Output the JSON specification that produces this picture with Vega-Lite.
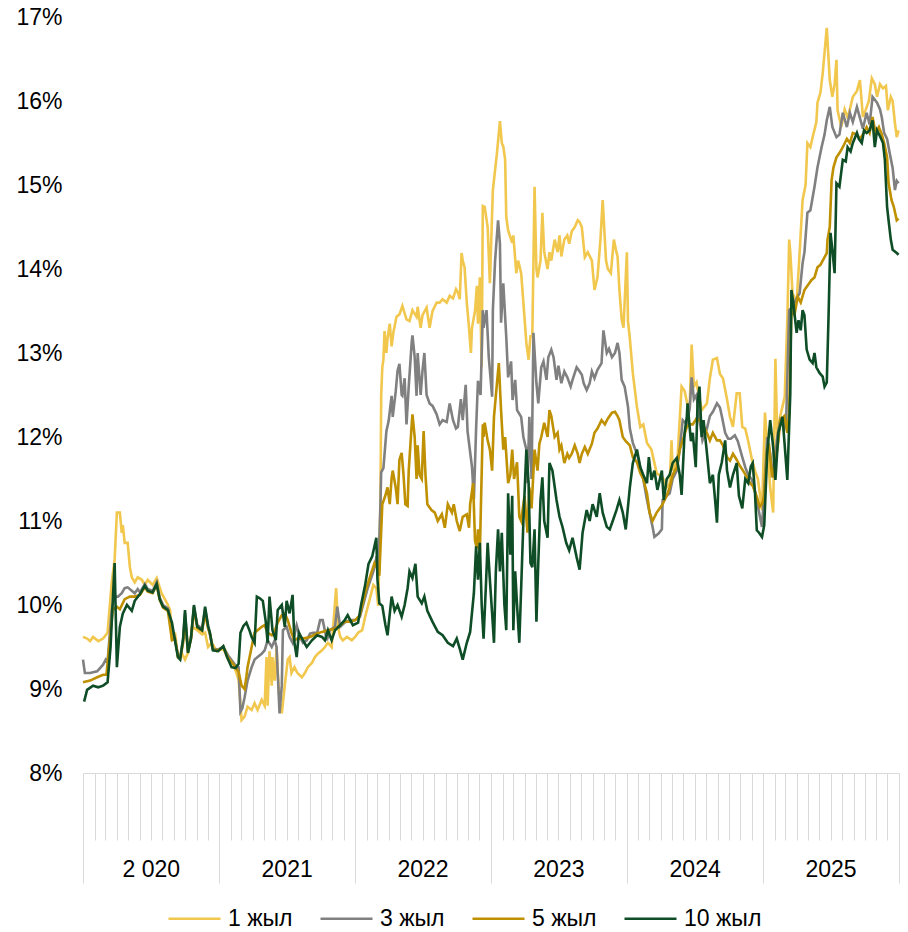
{
  "$schema": "https://vega.github.io/schema/vega-lite/v6.json",
  "width": 816,
  "height": 756,
  "autosize": {"type": "none"},
  "padding": {"left": 83, "top": 17, "right": 9, "bottom": 159},
  "background": "white",
  "config": {"view": {"stroke": null}, "font": "Liberation Sans", "legend": {"columnPadding": 9, "gridAlign": "all", "labelOffset": 6}},
  "datasets": {
    "y1": [
      {"d":"2020-01-01","v":9.62},{"d":"2020-01-12","v":9.6},{"d":"2020-01-20","v":9.57},{"d":"2020-01-28","v":9.62},{"d":"2020-02-11","v":9.57},{"d":"2020-02-24","v":9.6},{"d":"2020-03-07","v":9.67},{"d":"2020-03-18","v":10.26},{"d":"2020-03-26","v":10.54},{"d":"2020-04-01","v":11.1},{"d":"2020-04-09","v":11.1},{"d":"2020-04-14","v":10.86},{"d":"2020-04-17","v":10.95},{"d":"2020-04-22","v":10.74},{"d":"2020-04-30","v":10.74},{"d":"2020-05-06","v":10.45},{"d":"2020-05-11","v":10.33},{"d":"2020-05-19","v":10.27},{"d":"2020-05-27","v":10.33},{"d":"2020-06-07","v":10.3},{"d":"2020-06-15","v":10.24},{"d":"2020-06-23","v":10.3},{"d":"2020-07-06","v":10.24},{"d":"2020-07-17","v":10.32},{"d":"2020-07-30","v":10.14},{"d":"2020-08-14","v":10.02},{"d":"2020-08-22","v":9.94},{"d":"2020-08-27","v":9.58},{"d":"2020-09-04","v":9.67},{"d":"2020-09-12","v":9.38},{"d":"2020-09-23","v":9.42},{"d":"2020-10-01","v":9.35},{"d":"2020-10-09","v":9.43},{"d":"2020-10-22","v":9.74},{"d":"2020-11-03","v":9.7},{"d":"2020-11-16","v":9.65},{"d":"2020-11-24","v":9.67},{"d":"2020-12-02","v":9.5},{"d":"2020-12-12","v":9.55},{"d":"2020-12-26","v":9.45},
      {"d":"2021-01-12","v":9.48},{"d":"2021-01-25","v":9.35},{"d":"2021-02-08","v":9.3},{"d":"2021-02-22","v":9.11},{"d":"2021-03-02","v":8.63},{"d":"2021-03-10","v":8.67},{"d":"2021-03-18","v":8.79},{"d":"2021-03-29","v":8.75},{"d":"2021-04-06","v":8.83},{"d":"2021-04-14","v":8.75},{"d":"2021-04-25","v":8.87},{"d":"2021-05-03","v":8.8},{"d":"2021-05-08","v":9.38},{"d":"2021-05-11","v":8.8},{"d":"2021-05-16","v":9.45},{"d":"2021-05-22","v":9.04},{"d":"2021-05-24","v":9.38},{"d":"2021-05-30","v":9.1},{"d":"2021-06-04","v":9.5},{"d":"2021-06-07","v":9.2},{"d":"2021-06-12","v":8.85},{"d":"2021-06-18","v":8.71},{"d":"2021-06-26","v":9.04},{"d":"2021-07-04","v":9.35},{"d":"2021-07-09","v":9.38},{"d":"2021-07-14","v":9.19},{"d":"2021-07-22","v":9.26},{"d":"2021-07-30","v":9.19},{"d":"2021-08-11","v":9.14},{"d":"2021-08-19","v":9.19},{"d":"2021-08-27","v":9.26},{"d":"2021-09-07","v":9.31},{"d":"2021-09-15","v":9.38},{"d":"2021-09-23","v":9.42},{"d":"2021-10-04","v":9.46},{"d":"2021-10-12","v":9.5},{"d":"2021-10-20","v":9.55},{"d":"2021-10-30","v":9.5},{"d":"2021-11-03","v":9.74},{"d":"2021-11-11","v":10.2},{"d":"2021-11-16","v":9.74},{"d":"2021-11-22","v":9.62},{"d":"2021-11-29","v":9.58},{"d":"2021-12-10","v":9.62},{"d":"2021-12-23","v":9.58},
      {"d":"2022-01-01","v":9.62},{"d":"2022-01-09","v":9.67},{"d":"2022-01-20","v":9.7},{"d":"2022-01-28","v":9.86},{"d":"2022-02-11","v":10.1},{"d":"2022-02-19","v":10.24},{"d":"2022-02-27","v":10.2},{"d":"2022-03-04","v":9.99},{"d":"2022-03-10","v":11.2},{"d":"2022-03-12","v":12.5},{"d":"2022-03-15","v":12.83},{"d":"2022-03-18","v":12.92},{"d":"2022-03-21","v":13.26},{"d":"2022-03-26","v":13.0},{"d":"2022-03-29","v":13.17},{"d":"2022-04-04","v":13.35},{"d":"2022-04-09","v":13.08},{"d":"2022-04-14","v":13.25},{"d":"2022-04-22","v":13.43},{"d":"2022-04-30","v":13.46},{"d":"2022-05-08","v":13.56},{"d":"2022-05-19","v":13.4},{"d":"2022-05-27","v":13.38},{"d":"2022-06-04","v":13.51},{"d":"2022-06-15","v":13.43},{"d":"2022-06-18","v":13.55},{"d":"2022-06-26","v":13.3},{"d":"2022-07-01","v":13.45},{"d":"2022-07-12","v":13.54},{"d":"2022-07-20","v":13.3},{"d":"2022-07-28","v":13.5},{"d":"2022-08-08","v":13.6},{"d":"2022-08-16","v":13.6},{"d":"2022-08-24","v":13.64},{"d":"2022-09-04","v":13.6},{"d":"2022-09-12","v":13.68},{"d":"2022-09-21","v":13.65},{"d":"2022-09-29","v":13.76},{"d":"2022-10-04","v":13.72},{"d":"2022-10-09","v":13.64},{"d":"2022-10-14","v":14.19},{"d":"2022-10-17","v":14.1},{"d":"2022-10-22","v":14.02},{"d":"2022-10-28","v":13.6},{"d":"2022-11-03","v":13.3},{"d":"2022-11-08","v":13.0},{"d":"2022-11-11","v":13.3},{"d":"2022-11-19","v":13.5},{"d":"2022-11-24","v":13.8},{"d":"2022-11-27","v":13.35},{"d":"2022-12-02","v":13.9},{"d":"2022-12-07","v":12.83},{"d":"2022-12-10","v":14.75},{"d":"2022-12-15","v":14.74},{"d":"2022-12-23","v":14.5},{"d":"2022-12-29","v":13.83},
      {"d":"2023-01-06","v":14.94},{"d":"2023-01-12","v":15.18},{"d":"2023-01-17","v":15.38},{"d":"2023-01-25","v":15.76},{"d":"2023-01-30","v":15.5},{"d":"2023-02-03","v":15.46},{"d":"2023-02-08","v":15.3},{"d":"2023-02-11","v":14.62},{"d":"2023-02-16","v":14.46},{"d":"2023-02-27","v":14.31},{"d":"2023-03-02","v":14.4},{"d":"2023-03-10","v":13.95},{"d":"2023-03-15","v":14.1},{"d":"2023-03-23","v":13.95},{"d":"2023-03-29","v":13.6},{"d":"2023-04-06","v":13.12},{"d":"2023-04-12","v":12.92},{"d":"2023-04-17","v":13.2},{"d":"2023-04-22","v":13.2},{"d":"2023-04-28","v":14.98},{"d":"2023-05-03","v":14.0},{"d":"2023-05-06","v":13.9},{"d":"2023-05-14","v":14.1},{"d":"2023-05-19","v":14.67},{"d":"2023-05-24","v":14.2},{"d":"2023-06-02","v":14.0},{"d":"2023-06-07","v":14.2},{"d":"2023-06-12","v":14.1},{"d":"2023-06-21","v":14.35},{"d":"2023-06-29","v":14.2},{"d":"2023-07-04","v":14.4},{"d":"2023-07-09","v":14.15},{"d":"2023-07-17","v":14.35},{"d":"2023-07-25","v":14.4},{"d":"2023-07-30","v":14.3},{"d":"2023-08-06","v":14.45},{"d":"2023-08-14","v":14.5},{"d":"2023-08-22","v":14.58},{"d":"2023-08-27","v":14.56},{"d":"2023-09-02","v":14.5},{"d":"2023-09-10","v":14.14},{"d":"2023-09-18","v":14.2},{"d":"2023-09-29","v":14.1},{"d":"2023-10-06","v":13.75},{"d":"2023-10-14","v":13.9},{"d":"2023-10-22","v":14.35},{"d":"2023-10-28","v":14.82},{"d":"2023-11-06","v":14.1},{"d":"2023-11-11","v":14.0},{"d":"2023-11-19","v":13.95},{"d":"2023-11-27","v":14.35},{"d":"2023-12-04","v":14.2},{"d":"2023-12-07","v":14.15},{"d":"2023-12-12","v":13.75},{"d":"2023-12-18","v":13.4},{"d":"2023-12-23","v":13.3},{"d":"2024-01-01","v":14.2},
      {"d":"2024-01-04","v":13.38},{"d":"2024-01-09","v":13.17},{"d":"2024-01-17","v":12.76},{"d":"2024-01-28","v":12.36},{"d":"2024-02-06","v":12.12},{"d":"2024-02-14","v":12.15},{"d":"2024-02-24","v":11.93},{"d":"2024-03-07","v":11.85},{"d":"2024-03-21","v":11.57},{"d":"2024-04-06","v":11.52},{"d":"2024-04-17","v":11.4},{"d":"2024-04-25","v":11.45},{"d":"2024-04-30","v":11.96},{"d":"2024-05-03","v":11.6},{"d":"2024-05-16","v":11.75},{"d":"2024-05-27","v":12.6},{"d":"2024-06-04","v":12.55},{"d":"2024-06-12","v":12.38},{"d":"2024-06-18","v":12.4},{"d":"2024-06-23","v":13.1},{"d":"2024-06-29","v":12.6},{"d":"2024-07-06","v":12.65},{"d":"2024-07-20","v":12.32},{"d":"2024-08-03","v":12.4},{"d":"2024-08-11","v":12.7},{"d":"2024-08-19","v":12.92},{"d":"2024-08-30","v":12.94},{"d":"2024-09-07","v":12.75},{"d":"2024-09-15","v":12.7},{"d":"2024-09-26","v":12.45},{"d":"2024-10-04","v":12.24},{"d":"2024-10-12","v":12.12},{"d":"2024-10-22","v":12.52},{"d":"2024-10-30","v":12.52},{"d":"2024-11-06","v":12.12},{"d":"2024-11-14","v":12.1},{"d":"2024-11-22","v":11.95},{"d":"2024-12-02","v":11.73},{"d":"2024-12-10","v":11.6},{"d":"2024-12-18","v":11.5},{"d":"2024-12-29","v":11.13},
      {"d":"2025-01-06","v":12.29},{"d":"2025-01-12","v":11.9},{"d":"2025-01-20","v":11.4},{"d":"2025-01-28","v":11.1},{"d":"2025-02-03","v":12.93},{"d":"2025-02-08","v":12.0},{"d":"2025-02-16","v":12.25},{"d":"2025-02-24","v":12.4},{"d":"2025-02-28","v":12.48},{"d":"2025-03-07","v":13.39},{"d":"2025-03-12","v":14.35},{"d":"2025-03-15","v":14.2},{"d":"2025-03-21","v":13.71},{"d":"2025-04-01","v":13.6},{"d":"2025-04-09","v":14.19},{"d":"2025-04-17","v":14.82},{"d":"2025-04-25","v":15.0},{"d":"2025-04-30","v":15.5},{"d":"2025-05-08","v":15.45},{"d":"2025-05-14","v":15.57},{"d":"2025-05-24","v":15.75},{"d":"2025-05-27","v":15.98},{"d":"2025-06-04","v":16.1},{"d":"2025-06-10","v":16.33},{"d":"2025-06-21","v":16.87},{"d":"2025-06-29","v":16.25},{"d":"2025-07-06","v":16.05},{"d":"2025-07-12","v":16.2},{"d":"2025-07-17","v":16.49},{"d":"2025-07-20","v":15.89},{"d":"2025-07-30","v":15.69},{"d":"2025-08-08","v":15.9},{"d":"2025-08-16","v":15.8},{"d":"2025-08-22","v":15.9},{"d":"2025-08-30","v":16.05},{"d":"2025-09-10","v":16.12},{"d":"2025-09-18","v":16.25},{"d":"2025-09-26","v":15.81},{"d":"2025-10-04","v":15.9},{"d":"2025-10-12","v":16.0},{"d":"2025-10-20","v":16.27},{"d":"2025-10-28","v":16.2},{"d":"2025-11-03","v":16.05},{"d":"2025-11-11","v":16.2},{"d":"2025-11-19","v":16.15},{"d":"2025-11-27","v":16.18},{"d":"2025-12-02","v":15.89},{"d":"2025-12-10","v":16.05},{"d":"2025-12-15","v":16.0},{"d":"2025-12-21","v":15.74},{"d":"2025-12-26","v":15.57},{"d":"2025-12-31","v":15.65}
    ],
    "y3": [
      {"d":"2020-01-01","v":9.35},{"d":"2020-01-06","v":9.19},{"d":"2020-01-20","v":9.19},{"d":"2020-02-08","v":9.21},{"d":"2020-02-24","v":9.29},{"d":"2020-03-02","v":9.35},{"d":"2020-03-07","v":9.32},{"d":"2020-03-18","v":9.94},{"d":"2020-03-26","v":10.1},{"d":"2020-04-04","v":10.1},{"d":"2020-04-14","v":10.14},{"d":"2020-04-22","v":10.2},{"d":"2020-04-30","v":10.21},{"d":"2020-05-11","v":10.17},{"d":"2020-05-19","v":10.14},{"d":"2020-05-27","v":10.19},{"d":"2020-06-02","v":10.15},{"d":"2020-06-15","v":10.25},{"d":"2020-06-23","v":10.19},{"d":"2020-07-06","v":10.17},{"d":"2020-07-17","v":10.27},{"d":"2020-07-25","v":10.09},{"d":"2020-08-03","v":10.0},{"d":"2020-08-16","v":9.96},{"d":"2020-08-27","v":9.7},{"d":"2020-09-04","v":9.6},{"d":"2020-09-12","v":9.4},{"d":"2020-09-18","v":9.37},{"d":"2020-09-26","v":9.6},{"d":"2020-10-01","v":9.9},{"d":"2020-10-09","v":9.45},{"d":"2020-10-17","v":9.6},{"d":"2020-10-25","v":9.98},{"d":"2020-11-03","v":9.76},{"d":"2020-11-16","v":9.72},{"d":"2020-11-24","v":9.95},{"d":"2020-12-02","v":9.75},{"d":"2020-12-07","v":9.65},{"d":"2020-12-15","v":9.48},{"d":"2020-12-29","v":9.47},
      {"d":"2021-01-12","v":9.5},{"d":"2021-01-25","v":9.4},{"d":"2021-02-14","v":9.28},{"d":"2021-02-22","v":9.26},{"d":"2021-02-27","v":8.73},{"d":"2021-03-04","v":8.77},{"d":"2021-03-10","v":8.9},{"d":"2021-03-18","v":9.1},{"d":"2021-03-29","v":9.26},{"d":"2021-04-06","v":9.35},{"d":"2021-04-14","v":9.38},{"d":"2021-04-25","v":9.42},{"d":"2021-05-03","v":9.46},{"d":"2021-05-11","v":9.58},{"d":"2021-05-22","v":9.5},{"d":"2021-05-30","v":9.58},{"d":"2021-06-04","v":9.5},{"d":"2021-06-07","v":9.2},{"d":"2021-06-12","v":8.71},{"d":"2021-06-18","v":9.04},{"d":"2021-06-21","v":9.7},{"d":"2021-07-01","v":9.74},{"d":"2021-07-09","v":9.62},{"d":"2021-07-17","v":9.55},{"d":"2021-07-28","v":9.76},{"d":"2021-08-06","v":9.62},{"d":"2021-08-14","v":9.55},{"d":"2021-08-24","v":9.58},{"d":"2021-09-02","v":9.66},{"d":"2021-09-10","v":9.67},{"d":"2021-09-21","v":9.67},{"d":"2021-09-29","v":9.82},{"d":"2021-10-06","v":9.82},{"d":"2021-10-17","v":9.58},{"d":"2021-10-25","v":9.7},{"d":"2021-11-08","v":9.74},{"d":"2021-11-14","v":9.98},{"d":"2021-11-22","v":9.74},{"d":"2021-12-04","v":9.79},{"d":"2021-12-18","v":9.82},
      {"d":"2022-01-01","v":9.82},{"d":"2022-01-14","v":9.86},{"d":"2022-02-03","v":10.19},{"d":"2022-02-19","v":10.4},{"d":"2022-02-28","v":10.58},{"d":"2022-03-04","v":10.37},{"d":"2022-03-10","v":11.2},{"d":"2022-03-12","v":11.58},{"d":"2022-03-18","v":11.63},{"d":"2022-03-26","v":12.07},{"d":"2022-04-01","v":12.19},{"d":"2022-04-09","v":12.49},{"d":"2022-04-12","v":12.24},{"d":"2022-04-20","v":12.54},{"d":"2022-04-25","v":12.79},{"d":"2022-04-30","v":12.87},{"d":"2022-05-06","v":12.5},{"d":"2022-05-08","v":12.49},{"d":"2022-05-14","v":12.7},{"d":"2022-05-19","v":12.15},{"d":"2022-05-25","v":12.6},{"d":"2022-06-02","v":13.13},{"d":"2022-06-04","v":13.21},{"d":"2022-06-10","v":12.95},{"d":"2022-06-15","v":12.49},{"d":"2022-06-18","v":13.0},{"d":"2022-06-26","v":12.5},{"d":"2022-07-01","v":12.79},{"d":"2022-07-06","v":13.0},{"d":"2022-07-12","v":12.5},{"d":"2022-07-20","v":12.4},{"d":"2022-07-28","v":12.37},{"d":"2022-08-08","v":12.27},{"d":"2022-08-16","v":12.15},{"d":"2022-08-24","v":12.2},{"d":"2022-09-04","v":12.18},{"d":"2022-09-12","v":12.4},{"d":"2022-09-21","v":12.2},{"d":"2022-09-29","v":12.1},{"d":"2022-10-04","v":12.12},{"d":"2022-10-12","v":12.45},{"d":"2022-10-17","v":12.2},{"d":"2022-10-25","v":12.62},{"d":"2022-10-30","v":12.07},{"d":"2022-11-11","v":11.64},{"d":"2022-11-16","v":11.26},{"d":"2022-11-22","v":12.1},{"d":"2022-11-27","v":12.67},{"d":"2022-12-04","v":12.5},{"d":"2022-12-10","v":13.51},{"d":"2022-12-12","v":13.3},{"d":"2022-12-20","v":13.51},{"d":"2022-12-26","v":12.95},
      {"d":"2023-01-04","v":12.48},{"d":"2023-01-06","v":13.51},{"d":"2023-01-12","v":14.1},{"d":"2023-01-20","v":14.58},{"d":"2023-01-25","v":14.3},{"d":"2023-01-28","v":13.36},{"d":"2023-02-03","v":13.83},{"d":"2023-02-11","v":13.19},{"d":"2023-02-16","v":12.71},{"d":"2023-02-24","v":12.9},{"d":"2023-02-28","v":12.44},{"d":"2023-03-07","v":12.68},{"d":"2023-03-12","v":12.32},{"d":"2023-03-23","v":12.24},{"d":"2023-03-29","v":12.0},{"d":"2023-04-06","v":11.85},{"d":"2023-04-09","v":11.45},{"d":"2023-04-14","v":12.24},{"d":"2023-04-20","v":11.5},{"d":"2023-04-25","v":13.24},{"d":"2023-05-03","v":12.64},{"d":"2023-05-08","v":12.4},{"d":"2023-05-16","v":12.83},{"d":"2023-05-22","v":12.9},{"d":"2023-05-30","v":12.68},{"d":"2023-06-04","v":12.95},{"d":"2023-06-12","v":13.04},{"d":"2023-06-18","v":12.95},{"d":"2023-06-26","v":12.68},{"d":"2023-07-01","v":12.85},{"d":"2023-07-09","v":12.64},{"d":"2023-07-17","v":12.78},{"d":"2023-07-25","v":12.71},{"d":"2023-08-03","v":12.6},{"d":"2023-08-08","v":12.68},{"d":"2023-08-19","v":12.83},{"d":"2023-08-24","v":12.8},{"d":"2023-09-02","v":12.74},{"d":"2023-09-07","v":12.64},{"d":"2023-09-15","v":12.56},{"d":"2023-09-23","v":12.64},{"d":"2023-09-29","v":12.78},{"d":"2023-10-06","v":12.7},{"d":"2023-10-14","v":12.8},{"d":"2023-10-25","v":12.88},{"d":"2023-10-30","v":13.27},{"d":"2023-11-08","v":13.0},{"d":"2023-11-14","v":13.05},{"d":"2023-11-22","v":12.95},{"d":"2023-11-30","v":13.0},{"d":"2023-12-07","v":13.12},{"d":"2023-12-12","v":13.0},{"d":"2023-12-18","v":12.68},{"d":"2023-12-26","v":12.6},
      {"d":"2024-01-04","v":12.36},{"d":"2024-01-09","v":12.1},{"d":"2024-01-17","v":11.93},{"d":"2024-01-28","v":11.8},{"d":"2024-02-06","v":11.64},{"d":"2024-02-14","v":11.5},{"d":"2024-02-24","v":11.25},{"d":"2024-03-02","v":11.1},{"d":"2024-03-10","v":10.93},{"d":"2024-03-15","v":10.81},{"d":"2024-03-26","v":10.85},{"d":"2024-04-04","v":10.9},{"d":"2024-04-06","v":11.25},{"d":"2024-04-17","v":11.3},{"d":"2024-04-25","v":11.33},{"d":"2024-05-03","v":11.5},{"d":"2024-05-14","v":11.6},{"d":"2024-05-22","v":11.85},{"d":"2024-05-30","v":12.2},{"d":"2024-06-10","v":12.15},{"d":"2024-06-18","v":12.35},{"d":"2024-06-23","v":12.71},{"d":"2024-06-29","v":12.45},{"d":"2024-07-06","v":12.5},{"d":"2024-07-14","v":12.2},{"d":"2024-07-22","v":11.96},{"d":"2024-08-03","v":12.1},{"d":"2024-08-11","v":12.25},{"d":"2024-08-19","v":12.3},{"d":"2024-08-30","v":12.4},{"d":"2024-09-07","v":12.35},{"d":"2024-09-12","v":12.25},{"d":"2024-09-21","v":12.05},{"d":"2024-09-29","v":11.98},{"d":"2024-10-06","v":11.98},{"d":"2024-10-17","v":12.02},{"d":"2024-10-25","v":11.95},{"d":"2024-11-06","v":11.76},{"d":"2024-11-14","v":11.64},{"d":"2024-11-22","v":11.55},{"d":"2024-12-02","v":11.49},{"d":"2024-12-10","v":11.35},{"d":"2024-12-18","v":11.17},{"d":"2024-12-29","v":10.93},
      {"d":"2025-01-04","v":11.35},{"d":"2025-01-12","v":12.0},{"d":"2025-01-20","v":11.8},{"d":"2025-01-28","v":11.52},{"d":"2025-02-08","v":12.0},{"d":"2025-02-16","v":12.2},{"d":"2025-02-27","v":12.1},{"d":"2025-03-04","v":12.2},{"d":"2025-03-12","v":13.51},{"d":"2025-03-21","v":13.55},{"d":"2025-04-01","v":13.65},{"d":"2025-04-09","v":13.71},{"d":"2025-04-17","v":14.07},{"d":"2025-04-22","v":14.2},{"d":"2025-04-30","v":14.67},{"d":"2025-05-08","v":14.7},{"d":"2025-05-19","v":14.98},{"d":"2025-05-27","v":15.21},{"d":"2025-06-07","v":15.45},{"d":"2025-06-15","v":15.6},{"d":"2025-06-21","v":15.77},{"d":"2025-06-29","v":15.93},{"d":"2025-07-06","v":15.69},{"d":"2025-07-17","v":15.57},{"d":"2025-07-25","v":15.6},{"d":"2025-08-03","v":15.86},{"d":"2025-08-14","v":15.69},{"d":"2025-08-22","v":15.86},{"d":"2025-08-30","v":15.75},{"d":"2025-09-10","v":15.93},{"d":"2025-09-18","v":15.8},{"d":"2025-09-26","v":15.67},{"d":"2025-10-06","v":15.86},{"d":"2025-10-14","v":15.72},{"d":"2025-10-22","v":16.05},{"d":"2025-11-03","v":15.98},{"d":"2025-11-11","v":15.9},{"d":"2025-11-16","v":15.8},{"d":"2025-11-22","v":15.62},{"d":"2025-11-30","v":15.55},{"d":"2025-12-07","v":15.38},{"d":"2025-12-15","v":15.2},{"d":"2025-12-21","v":14.94},{"d":"2025-12-26","v":15.05},{"d":"2025-12-31","v":15.02}
    ],
    "y5": [
      {"d":"2020-01-01","v":9.08},{"d":"2020-01-20","v":9.1},{"d":"2020-02-08","v":9.14},{"d":"2020-02-24","v":9.17},{"d":"2020-03-04","v":9.17},{"d":"2020-03-13","v":9.58},{"d":"2020-03-21","v":9.94},{"d":"2020-04-01","v":9.98},{"d":"2020-04-09","v":9.95},{"d":"2020-04-22","v":10.07},{"d":"2020-05-06","v":10.1},{"d":"2020-05-19","v":10.1},{"d":"2020-06-02","v":10.12},{"d":"2020-06-15","v":10.21},{"d":"2020-06-23","v":10.16},{"d":"2020-07-06","v":10.14},{"d":"2020-07-17","v":10.24},{"d":"2020-07-25","v":10.06},{"d":"2020-08-03","v":9.97},{"d":"2020-08-16","v":9.93},{"d":"2020-08-27","v":9.58},{"d":"2020-09-04","v":9.6},{"d":"2020-09-12","v":9.39},{"d":"2020-09-18","v":9.36},{"d":"2020-09-26","v":9.55},{"d":"2020-10-01","v":9.85},{"d":"2020-10-09","v":9.44},{"d":"2020-10-17","v":9.6},{"d":"2020-10-25","v":9.95},{"d":"2020-11-03","v":9.73},{"d":"2020-11-16","v":9.69},{"d":"2020-11-24","v":9.9},{"d":"2020-12-02","v":9.72},{"d":"2020-12-07","v":9.66},{"d":"2020-12-15","v":9.47},{"d":"2020-12-29","v":9.46},
      {"d":"2021-01-12","v":9.5},{"d":"2021-01-25","v":9.37},{"d":"2021-02-14","v":9.26},{"d":"2021-02-22","v":9.2},{"d":"2021-03-02","v":9.04},{"d":"2021-03-10","v":9.0},{"d":"2021-03-15","v":9.15},{"d":"2021-03-18","v":9.26},{"d":"2021-03-29","v":9.5},{"d":"2021-04-06","v":9.67},{"d":"2021-04-14","v":9.7},{"d":"2021-04-25","v":9.74},{"d":"2021-05-03","v":9.76},{"d":"2021-05-11","v":9.67},{"d":"2021-05-22","v":9.64},{"d":"2021-05-30","v":9.69},{"d":"2021-06-07","v":9.79},{"d":"2021-06-18","v":9.88},{"d":"2021-06-26","v":9.9},{"d":"2021-07-04","v":9.82},{"d":"2021-07-14","v":9.67},{"d":"2021-07-22","v":9.58},{"d":"2021-07-30","v":9.6},{"d":"2021-08-14","v":9.6},{"d":"2021-09-02","v":9.62},{"d":"2021-09-21","v":9.66},{"d":"2021-10-04","v":9.68},{"d":"2021-10-20","v":9.7},{"d":"2021-11-08","v":9.72},{"d":"2021-11-22","v":9.76},{"d":"2021-12-04","v":9.8},{"d":"2021-12-18","v":9.8},
      {"d":"2022-01-01","v":9.82},{"d":"2022-01-14","v":9.88},{"d":"2022-01-28","v":10.15},{"d":"2022-02-11","v":10.35},{"d":"2022-02-22","v":10.5},{"d":"2022-02-28","v":10.45},{"d":"2022-03-07","v":10.35},{"d":"2022-03-12","v":10.88},{"d":"2022-03-15","v":11.2},{"d":"2022-03-23","v":11.3},{"d":"2022-03-29","v":11.4},{"d":"2022-04-04","v":11.2},{"d":"2022-04-09","v":11.51},{"d":"2022-04-12","v":11.6},{"d":"2022-04-20","v":11.4},{"d":"2022-04-25","v":11.2},{"d":"2022-04-30","v":11.73},{"d":"2022-05-06","v":11.81},{"d":"2022-05-11","v":11.55},{"d":"2022-05-16","v":11.2},{"d":"2022-05-22","v":11.18},{"d":"2022-05-25","v":11.6},{"d":"2022-06-02","v":12.15},{"d":"2022-06-04","v":12.27},{"d":"2022-06-10","v":12.0},{"d":"2022-06-15","v":11.5},{"d":"2022-06-18","v":11.9},{"d":"2022-06-23","v":11.55},{"d":"2022-06-29","v":11.5},{"d":"2022-07-04","v":12.07},{"d":"2022-07-09","v":11.55},{"d":"2022-07-14","v":11.2},{"d":"2022-07-25","v":11.13},{"d":"2022-08-03","v":11.1},{"d":"2022-08-11","v":11.0},{"d":"2022-08-22","v":11.08},{"d":"2022-08-30","v":10.92},{"d":"2022-09-07","v":11.2},{"d":"2022-09-18","v":11.1},{"d":"2022-09-23","v":11.2},{"d":"2022-10-01","v":11.0},{"d":"2022-10-09","v":10.88},{"d":"2022-10-17","v":11.05},{"d":"2022-10-28","v":11.08},{"d":"2022-11-03","v":10.92},{"d":"2022-11-06","v":11.2},{"d":"2022-11-14","v":11.45},{"d":"2022-11-19","v":10.77},{"d":"2022-11-24","v":10.67},{"d":"2022-11-27","v":10.9},{"d":"2022-12-02","v":10.62},{"d":"2022-12-10","v":12.15},{"d":"2022-12-12","v":12.0},{"d":"2022-12-15","v":12.17},{"d":"2022-12-23","v":11.96},{"d":"2022-12-29","v":11.85},
      {"d":"2023-01-04","v":11.6},{"d":"2023-01-09","v":12.24},{"d":"2023-01-17","v":12.64},{"d":"2023-01-22","v":12.88},{"d":"2023-01-28","v":12.32},{"d":"2023-02-03","v":11.85},{"d":"2023-02-08","v":12.0},{"d":"2023-02-16","v":11.45},{"d":"2023-02-22","v":11.55},{"d":"2023-02-27","v":11.85},{"d":"2023-03-04","v":11.5},{"d":"2023-03-12","v":11.7},{"d":"2023-03-18","v":11.05},{"d":"2023-03-23","v":11.0},{"d":"2023-04-01","v":11.3},{"d":"2023-04-09","v":10.86},{"d":"2023-04-14","v":11.4},{"d":"2023-04-20","v":11.15},{"d":"2023-04-28","v":11.85},{"d":"2023-05-06","v":11.6},{"d":"2023-05-11","v":11.92},{"d":"2023-05-16","v":12.0},{"d":"2023-05-24","v":12.17},{"d":"2023-06-02","v":12.0},{"d":"2023-06-07","v":12.32},{"d":"2023-06-12","v":12.25},{"d":"2023-06-21","v":12.0},{"d":"2023-06-29","v":12.05},{"d":"2023-07-04","v":11.85},{"d":"2023-07-09","v":11.9},{"d":"2023-07-17","v":11.69},{"d":"2023-07-25","v":11.8},{"d":"2023-07-30","v":11.75},{"d":"2023-08-06","v":11.8},{"d":"2023-08-14","v":11.9},{"d":"2023-08-22","v":11.8},{"d":"2023-08-27","v":11.69},{"d":"2023-09-02","v":11.8},{"d":"2023-09-10","v":11.88},{"d":"2023-09-18","v":11.8},{"d":"2023-09-29","v":11.92},{"d":"2023-10-06","v":12.05},{"d":"2023-10-14","v":12.1},{"d":"2023-10-25","v":12.2},{"d":"2023-11-03","v":12.15},{"d":"2023-11-11","v":12.22},{"d":"2023-11-22","v":12.29},{"d":"2023-11-30","v":12.3},{"d":"2023-12-07","v":12.25},{"d":"2023-12-12","v":12.2},{"d":"2023-12-21","v":12.0},{"d":"2023-12-29","v":11.95},
      {"d":"2024-01-09","v":11.9},{"d":"2024-01-17","v":11.76},{"d":"2024-01-28","v":11.7},{"d":"2024-02-06","v":11.57},{"d":"2024-02-14","v":11.5},{"d":"2024-02-24","v":11.33},{"d":"2024-03-02","v":11.1},{"d":"2024-03-10","v":11.0},{"d":"2024-03-21","v":11.1},{"d":"2024-03-29","v":11.15},{"d":"2024-04-06","v":11.2},{"d":"2024-04-17","v":11.3},{"d":"2024-04-25","v":11.4},{"d":"2024-05-03","v":11.55},{"d":"2024-05-14","v":11.64},{"d":"2024-05-22","v":11.85},{"d":"2024-06-02","v":12.0},{"d":"2024-06-10","v":12.12},{"d":"2024-06-18","v":12.15},{"d":"2024-06-26","v":12.15},{"d":"2024-07-06","v":12.22},{"d":"2024-07-14","v":12.2},{"d":"2024-07-22","v":12.15},{"d":"2024-08-03","v":12.05},{"d":"2024-08-11","v":11.96},{"d":"2024-08-19","v":12.05},{"d":"2024-08-30","v":11.96},{"d":"2024-09-07","v":11.96},{"d":"2024-09-15","v":11.9},{"d":"2024-09-26","v":11.76},{"d":"2024-10-04","v":11.72},{"d":"2024-10-12","v":11.8},{"d":"2024-10-22","v":11.73},{"d":"2024-10-30","v":11.66},{"d":"2024-11-08","v":11.6},{"d":"2024-11-19","v":11.52},{"d":"2024-11-27","v":11.45},{"d":"2024-12-04","v":11.42},{"d":"2024-12-15","v":11.29},{"d":"2024-12-23","v":11.17},{"d":"2024-12-29","v":11.2},
      {"d":"2025-01-04","v":11.3},{"d":"2025-01-12","v":11.88},{"d":"2025-01-17","v":11.9},{"d":"2025-01-25","v":11.52},{"d":"2025-02-03","v":11.7},{"d":"2025-02-11","v":11.95},{"d":"2025-02-16","v":12.2},{"d":"2025-02-27","v":12.25},{"d":"2025-03-07","v":12.05},{"d":"2025-03-12","v":12.3},{"d":"2025-03-18","v":13.51},{"d":"2025-03-26","v":13.45},{"d":"2025-04-04","v":13.67},{"d":"2025-04-12","v":13.6},{"d":"2025-04-22","v":13.75},{"d":"2025-04-30","v":13.8},{"d":"2025-05-11","v":13.87},{"d":"2025-05-19","v":13.9},{"d":"2025-05-27","v":14.02},{"d":"2025-06-04","v":14.05},{"d":"2025-06-10","v":14.1},{"d":"2025-06-21","v":14.19},{"d":"2025-06-23","v":14.35},{"d":"2025-06-29","v":14.5},{"d":"2025-07-04","v":15.06},{"d":"2025-07-09","v":15.21},{"d":"2025-07-17","v":15.33},{"d":"2025-07-25","v":15.38},{"d":"2025-08-03","v":15.45},{"d":"2025-08-14","v":15.55},{"d":"2025-08-22","v":15.5},{"d":"2025-08-30","v":15.62},{"d":"2025-09-10","v":15.6},{"d":"2025-09-18","v":15.55},{"d":"2025-09-26","v":15.6},{"d":"2025-10-06","v":15.69},{"d":"2025-10-14","v":15.62},{"d":"2025-10-22","v":15.81},{"d":"2025-10-30","v":15.62},{"d":"2025-11-08","v":15.69},{"d":"2025-11-16","v":15.6},{"d":"2025-11-22","v":15.5},{"d":"2025-11-30","v":15.33},{"d":"2025-12-04","v":15.02},{"d":"2025-12-12","v":14.82},{"d":"2025-12-18","v":14.74},{"d":"2025-12-26","v":14.58},{"d":"2025-12-31","v":14.6}
    ],
    "y10": [
      {"d":"2020-01-04","v":8.85},{"d":"2020-01-12","v":8.99},{"d":"2020-01-28","v":9.04},{"d":"2020-02-11","v":9.02},{"d":"2020-02-24","v":9.04},{"d":"2020-03-07","v":9.08},{"d":"2020-03-15","v":9.5},{"d":"2020-03-21","v":10.06},{"d":"2020-03-26","v":10.5},{"d":"2020-04-01","v":9.26},{"d":"2020-04-09","v":9.74},{"d":"2020-04-17","v":9.9},{"d":"2020-04-28","v":10.0},{"d":"2020-05-11","v":9.93},{"d":"2020-05-19","v":10.05},{"d":"2020-06-02","v":10.13},{"d":"2020-06-15","v":10.23},{"d":"2020-06-23","v":10.17},{"d":"2020-07-06","v":10.15},{"d":"2020-07-17","v":10.25},{"d":"2020-07-25","v":10.07},{"d":"2020-08-03","v":9.98},{"d":"2020-08-16","v":9.94},{"d":"2020-08-27","v":9.79},{"d":"2020-09-04","v":9.58},{"d":"2020-09-12","v":9.38},{"d":"2020-09-18","v":9.35},{"d":"2020-09-26","v":9.6},{"d":"2020-10-01","v":9.94},{"d":"2020-10-09","v":9.43},{"d":"2020-10-17","v":9.6},{"d":"2020-10-25","v":10.0},{"d":"2020-11-03","v":9.74},{"d":"2020-11-16","v":9.7},{"d":"2020-11-24","v":9.98},{"d":"2020-12-02","v":9.75},{"d":"2020-12-07","v":9.67},{"d":"2020-12-15","v":9.46},{"d":"2020-12-29","v":9.45},
      {"d":"2021-01-12","v":9.51},{"d":"2021-01-22","v":9.38},{"d":"2021-02-03","v":9.26},{"d":"2021-02-14","v":9.25},{"d":"2021-02-22","v":9.3},{"d":"2021-02-27","v":9.67},{"d":"2021-03-07","v":9.75},{"d":"2021-03-15","v":9.79},{"d":"2021-03-23","v":9.7},{"d":"2021-03-29","v":9.62},{"d":"2021-04-06","v":9.55},{"d":"2021-04-12","v":10.1},{"d":"2021-04-20","v":10.08},{"d":"2021-04-28","v":10.05},{"d":"2021-05-06","v":9.8},{"d":"2021-05-11","v":9.55},{"d":"2021-05-16","v":10.1},{"d":"2021-05-24","v":9.7},{"d":"2021-06-02","v":9.58},{"d":"2021-06-07","v":9.94},{"d":"2021-06-18","v":10.0},{"d":"2021-06-26","v":9.74},{"d":"2021-07-01","v":10.05},{"d":"2021-07-09","v":9.9},{"d":"2021-07-17","v":10.12},{"d":"2021-07-22","v":9.55},{"d":"2021-07-28","v":9.38},{"d":"2021-08-03","v":9.67},{"d":"2021-08-14","v":9.58},{"d":"2021-08-24","v":9.5},{"d":"2021-09-07","v":9.58},{"d":"2021-09-21","v":9.64},{"d":"2021-10-04","v":9.62},{"d":"2021-10-12","v":9.58},{"d":"2021-10-20","v":9.7},{"d":"2021-10-30","v":9.58},{"d":"2021-11-08","v":9.7},{"d":"2021-11-22","v":9.76},{"d":"2021-12-04","v":9.82},{"d":"2021-12-12","v":9.88},{"d":"2021-12-26","v":9.76},
      {"d":"2022-01-09","v":9.79},{"d":"2022-01-17","v":10.0},{"d":"2022-01-28","v":10.24},{"d":"2022-02-06","v":10.49},{"d":"2022-02-16","v":10.58},{"d":"2022-02-22","v":10.7},{"d":"2022-02-27","v":10.8},{"d":"2022-03-02","v":10.3},{"d":"2022-03-07","v":10.02},{"d":"2022-03-15","v":9.99},{"d":"2022-03-23","v":9.77},{"d":"2022-03-29","v":9.64},{"d":"2022-04-09","v":10.1},{"d":"2022-04-17","v":9.93},{"d":"2022-04-25","v":10.0},{"d":"2022-05-06","v":9.86},{"d":"2022-05-14","v":10.0},{"d":"2022-05-22","v":10.2},{"d":"2022-05-27","v":10.4},{"d":"2022-06-04","v":10.32},{"d":"2022-06-12","v":10.49},{"d":"2022-06-18","v":10.1},{"d":"2022-06-29","v":10.02},{"d":"2022-07-06","v":10.1},{"d":"2022-07-14","v":9.93},{"d":"2022-07-28","v":9.8},{"d":"2022-08-11","v":9.68},{"d":"2022-08-24","v":9.64},{"d":"2022-09-07","v":9.55},{"d":"2022-09-21","v":9.51},{"d":"2022-10-01","v":9.6},{"d":"2022-10-09","v":9.48},{"d":"2022-10-17","v":9.35},{"d":"2022-10-28","v":9.55},{"d":"2022-11-06","v":9.68},{"d":"2022-11-16","v":10.14},{"d":"2022-11-22","v":10.7},{"d":"2022-11-27","v":10.3},{"d":"2022-12-02","v":10.74},{"d":"2022-12-07","v":10.0},{"d":"2022-12-12","v":9.6},{"d":"2022-12-18","v":10.2},{"d":"2022-12-23","v":10.74},{"d":"2022-12-29","v":10.3},
      {"d":"2023-01-04","v":9.9},{"d":"2023-01-09","v":9.55},{"d":"2023-01-14","v":10.4},{"d":"2023-01-20","v":10.9},{"d":"2023-01-25","v":10.4},{"d":"2023-01-30","v":10.86},{"d":"2023-02-06","v":10.0},{"d":"2023-02-11","v":9.7},{"d":"2023-02-16","v":11.33},{"d":"2023-02-22","v":10.6},{"d":"2023-02-27","v":11.3},{"d":"2023-03-02","v":9.7},{"d":"2023-03-07","v":10.4},{"d":"2023-03-12","v":10.0},{"d":"2023-03-18","v":9.55},{"d":"2023-03-23","v":10.2},{"d":"2023-03-29","v":11.0},{"d":"2023-04-06","v":11.85},{"d":"2023-04-12","v":11.45},{"d":"2023-04-17","v":10.5},{"d":"2023-04-22","v":10.45},{"d":"2023-04-28","v":10.9},{"d":"2023-05-03","v":9.8},{"d":"2023-05-08","v":10.5},{"d":"2023-05-14","v":11.25},{"d":"2023-05-19","v":11.52},{"d":"2023-05-24","v":11.0},{"d":"2023-06-02","v":10.8},{"d":"2023-06-07","v":11.69},{"d":"2023-06-15","v":11.6},{"d":"2023-06-26","v":11.25},{"d":"2023-07-04","v":11.05},{"d":"2023-07-12","v":10.93},{"d":"2023-07-22","v":10.74},{"d":"2023-07-30","v":10.65},{"d":"2023-08-08","v":10.8},{"d":"2023-08-19","v":10.57},{"d":"2023-08-27","v":10.42},{"d":"2023-09-04","v":10.86},{"d":"2023-09-15","v":11.13},{"d":"2023-09-23","v":11.0},{"d":"2023-10-01","v":11.2},{"d":"2023-10-12","v":11.05},{"d":"2023-10-20","v":11.33},{"d":"2023-10-28","v":11.1},{"d":"2023-11-08","v":10.93},{"d":"2023-11-16","v":10.9},{"d":"2023-11-24","v":11.0},{"d":"2023-12-04","v":11.13},{"d":"2023-12-12","v":11.25},{"d":"2023-12-21","v":11.1},{"d":"2023-12-29","v":10.9},
      {"d":"2024-01-09","v":11.4},{"d":"2024-01-17","v":11.69},{"d":"2024-01-28","v":11.85},{"d":"2024-02-06","v":11.64},{"d":"2024-02-14","v":11.55},{"d":"2024-02-24","v":11.45},{"d":"2024-02-29","v":11.76},{"d":"2024-03-07","v":11.49},{"d":"2024-03-15","v":11.6},{"d":"2024-03-23","v":11.37},{"d":"2024-04-04","v":11.6},{"d":"2024-04-09","v":11.25},{"d":"2024-04-17","v":11.5},{"d":"2024-04-25","v":11.55},{"d":"2024-05-03","v":11.69},{"d":"2024-05-14","v":11.75},{"d":"2024-05-22","v":11.55},{"d":"2024-05-27","v":11.31},{"d":"2024-06-04","v":12.05},{"d":"2024-06-10","v":12.24},{"d":"2024-06-12","v":12.4},{"d":"2024-06-21","v":11.95},{"d":"2024-06-26","v":12.05},{"d":"2024-07-04","v":11.64},{"d":"2024-07-09","v":12.43},{"d":"2024-07-14","v":12.6},{"d":"2024-07-20","v":12.0},{"d":"2024-07-25","v":12.2},{"d":"2024-08-03","v":11.81},{"d":"2024-08-11","v":11.45},{"d":"2024-08-19","v":11.55},{"d":"2024-08-24","v":11.3},{"d":"2024-08-30","v":10.98},{"d":"2024-09-04","v":11.55},{"d":"2024-09-12","v":11.7},{"d":"2024-09-21","v":11.96},{"d":"2024-09-26","v":11.6},{"d":"2024-10-04","v":11.4},{"d":"2024-10-12","v":11.55},{"d":"2024-10-22","v":11.69},{"d":"2024-10-28","v":11.3},{"d":"2024-11-06","v":11.15},{"d":"2024-11-14","v":11.5},{"d":"2024-11-22","v":11.45},{"d":"2024-11-29","v":11.65},{"d":"2024-12-04","v":11.69},{"d":"2024-12-10","v":11.35},{"d":"2024-12-15","v":10.89},{"d":"2024-12-21","v":10.86},{"d":"2024-12-29","v":10.81},
      {"d":"2025-01-04","v":10.95},{"d":"2025-01-12","v":11.81},{"d":"2025-01-20","v":12.2},{"d":"2025-01-28","v":11.88},{"d":"2025-02-03","v":11.49},{"d":"2025-02-11","v":12.05},{"d":"2025-02-22","v":12.24},{"d":"2025-02-28","v":11.9},{"d":"2025-03-07","v":11.49},{"d":"2025-03-15","v":12.52},{"d":"2025-03-18","v":13.75},{"d":"2025-03-23","v":13.6},{"d":"2025-04-01","v":13.24},{"d":"2025-04-06","v":13.39},{"d":"2025-04-12","v":13.27},{"d":"2025-04-17","v":13.51},{"d":"2025-04-22","v":13.45},{"d":"2025-04-28","v":13.04},{"d":"2025-05-06","v":12.92},{"d":"2025-05-14","v":12.88},{"d":"2025-05-19","v":13.0},{"d":"2025-05-24","v":12.83},{"d":"2025-06-02","v":12.76},{"d":"2025-06-10","v":12.72},{"d":"2025-06-15","v":12.6},{"d":"2025-06-21","v":12.65},{"d":"2025-06-26","v":13.48},{"d":"2025-07-01","v":14.43},{"d":"2025-07-06","v":14.23},{"d":"2025-07-12","v":13.95},{"d":"2025-07-17","v":15.02},{"d":"2025-07-25","v":14.98},{"d":"2025-08-03","v":15.3},{"d":"2025-08-11","v":15.28},{"d":"2025-08-16","v":15.45},{"d":"2025-08-24","v":15.4},{"d":"2025-08-30","v":15.5},{"d":"2025-09-10","v":15.62},{"d":"2025-09-15","v":15.55},{"d":"2025-09-23","v":15.5},{"d":"2025-09-29","v":15.65},{"d":"2025-10-06","v":15.62},{"d":"2025-10-14","v":15.65},{"d":"2025-10-22","v":15.77},{"d":"2025-10-28","v":15.45},{"d":"2025-11-03","v":15.65},{"d":"2025-11-11","v":15.58},{"d":"2025-11-19","v":15.5},{"d":"2025-11-24","v":15.3},{"d":"2025-11-30","v":14.74},{"d":"2025-12-04","v":14.58},{"d":"2025-12-10","v":14.35},{"d":"2025-12-15","v":14.23},{"d":"2025-12-26","v":14.19},{"d":"2025-12-31","v":14.17}
    ]
  },
  "encoding": {
    "x": {
      "field": "d",
      "type": "temporal",
      "title": null,
      "scale": {
        "type": "utc",
        "domain": [
          {"year": 2020, "month": 1, "date": 1, "utc": true},
          {"year": 2026, "month": 1, "date": 1, "utc": true}
        ]
      },
      "axis": {
        "tickCount": {"interval": "month", "step": 1},
        "tickSize": {"condition": {"test": "utcmonth(datum.value) == 0", "value": 110}, "value": 67},
        "tickColor": "#d9d9d9",
        "tickWidth": 1,
        "domainColor": "#d9d9d9",
        "domainWidth": 1,
        "grid": false,
        "labelExpr": "utcmonth(datum.value) == 6 ? (utcyear(datum.value) == 2020 ? '2 020' : '' + utcyear(datum.value)) : ''",
        "labelOverlap": false,
        "labelBound": false,
        "labelFlush": false,
        "labelAngle": 0,
        "labelAlign": "center",
        "labelBaseline": "middle",
        "labelFontSize": 23,
        "labelFont": "Liberation Sans",
        "labelColor": "#000000",
        "labelPadding": 29
      }
    },
    "y": {
      "field": "v",
      "type": "quantitative",
      "title": null,
      "scale": {"domain": [8, 17], "nice": false, "zero": false},
      "axis": {
        "values": [8, 9, 10, 11, 12, 13, 14, 15, 16, 17],
        "labelExpr": "datum.value + '%'",
        "domain": false,
        "ticks": false,
        "grid": false,
        "labelFontSize": 23,
        "labelFont": "Liberation Sans",
        "labelColor": "#000000",
        "labelPadding": 21
      }
    }
  },
  "layer": [
    {
      "data": {"name": "y1"},
      "mark": {"type": "line", "strokeWidth": 2.6},
      "encoding": {
        "color": {
          "datum": "1 жыл",
          "type": "nominal",
          "scale": {
            "domain": ["1 жыл", "3 жыл", "5 жыл", "10 жыл"],
            "range": ["#F1C74E", "#808080", "#BF9000", "#0E4D26"]
          },
          "legend": {
            "title": null,
            "orient": "none",
            "legendX": 84,
            "legendY": 874,
            "direction": "horizontal",
            "columns": 4,
            "symbolType": "stroke",
            "symbolSize": 2704,
            "symbolStrokeWidth": 2.5,
            "labelFontSize": 23,
            "labelFont": "Liberation Sans",
            "labelColor": "#000000",
            "padding": 0
          }
        }
      }
    },
    {
      "data": {"name": "y3"},
      "mark": {"type": "line", "strokeWidth": 2.6},
      "encoding": {"color": {"datum": "3 жыл", "type": "nominal"}}
    },
    {
      "data": {"name": "y5"},
      "mark": {"type": "line", "strokeWidth": 2.6},
      "encoding": {"color": {"datum": "5 жыл", "type": "nominal"}}
    },
    {
      "data": {"name": "y10"},
      "mark": {"type": "line", "strokeWidth": 2.6},
      "encoding": {"color": {"datum": "10 жыл", "type": "nominal"}}
    }
  ]
}
